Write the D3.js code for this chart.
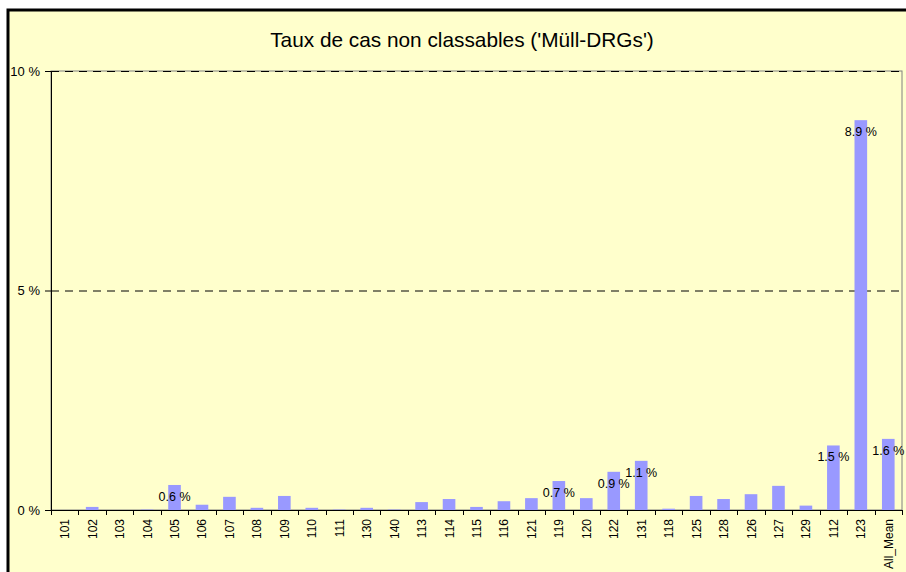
<!DOCTYPE html>
<html>
<head>
<meta charset="utf-8">
<script src="https://cdn.jsdelivr.net/npm/d3@7"></script>
<style>
  body { margin: 0; background: #fff; }
  svg { display: block; font-family: "Liberation Sans", Arial, sans-serif; }
</style>
</head>
<body>
<svg id="chart" width="906" height="572"></svg>
<script>
// data
var categories = ["101","102","103","104","105","106","107","108","109","110","111","130","140",
  "113","114","115","116","121","119","120","122","131","118","125","128","126","127","129",
  "112","123","All_Mean"];
var rates = [0, 0.07, 0, 0.01, 0.57, 0.12, 0.30, 0.05, 0.32, 0.05, 0.01, 0.05, 0.01,
  0.18, 0.25, 0.07, 0.20, 0.27, 0.66, 0.27, 0.87, 1.12, 0.03, 0.32, 0.25, 0.36, 0.55, 0.10,
  1.47, 8.88, 1.62];
var labelled = ["105","119","122","131","112","123","All_Mean"];
var yTicks = [0, 5, 10];
var title = "Taux de cas non classables ('Müll-DRGs')";

var svg = d3.select("#chart");
var margin = {top: 71, right: 4, bottom: 62, left: 51};
var width = 906 - margin.left - margin.right;
var height = 572 - margin.top - margin.bottom;

// outer frame
svg.append("rect")
    .attr("x", 8).attr("y", 10)
    .attr("width", 906).attr("height", 572)
    .attr("fill", "#FFFFCC")
    .attr("stroke", "#000")
    .attr("stroke-width", 3);

svg.append("text")
    .attr("x", 462).attr("y", 47)
    .attr("text-anchor", "middle")
    .attr("font-size", 20.8)
    .attr("fill", "#000")
    .text(title);

var x = d3.scaleBand().domain(categories).range([0, width]).paddingInner(0.54).paddingOuter(0.27);
var y = d3.scaleLinear().domain([0, 10]).range([height, 0]);

var g = svg.append("g").attr("transform", "translate(" + margin.left + "," + margin.top + ")");

// plot area border
g.append("rect")
    .attr("width", width).attr("height", height)
    .attr("fill", "none")
    .attr("stroke", "#808080")
    .attr("stroke-width", 1);

// dashed grid lines
g.selectAll(".grid")
    .data(yTicks.filter(d => d > 0))
    .enter().append("line")
    .attr("x1", 0).attr("x2", width)
    .attr("y1", d => y(d) + 0.5).attr("y2", d => y(d) + 0.5)
    .attr("stroke", "#000")
    .attr("stroke-dasharray", "8,6");

g.selectAll(".bar")
    .data(rates)
    .enter().append("rect")
    .attr("x", (d, i) => x(categories[i]))
    .attr("y", d => y(d))
    .attr("width", x.bandwidth())
    .attr("height", d => height - y(d))
    .attr("fill", "#9999FF");

g.selectAll(".val")
    .data(rates.filter((d, i) => labelled.indexOf(categories[i]) >= 0))
    .enter().append("text")
    .attr("x", (d, i) => x(labelled[i]) + x.bandwidth() / 2)
    .attr("y", d => y(d) + 16)
    .attr("text-anchor", "middle")
    .attr("font-size", 12.5)
    .attr("fill", "#000")
    .text(d => d3.format(".1f")(d) + " %");

// y axis
var yAxis = g.append("g")
    .call(d3.axisLeft(y).tickValues(yTicks).tickSize(6).tickFormat(d => d + " %"));
yAxis.select(".domain").attr("stroke", "#000");
yAxis.selectAll("text").attr("font-size", 13).attr("font-family", "Liberation Sans, Arial, sans-serif").attr("dx", -2);

// x axis: ticks between categories
var xg = g.append("g").attr("transform", "translate(0," + height + ")");
xg.append("line").attr("x1", 0).attr("x2", width).attr("y1", 0.5).attr("y2", 0.5).attr("stroke", "#000");
xg.selectAll(".tk")
    .data(d3.range(categories.length + 1))
    .enter().append("line")
    .attr("x1", i => Math.round(i * x.step()) + 0.5)
    .attr("x2", i => Math.round(i * x.step()) + 0.5)
    .attr("y1", 0).attr("y2", 5)
    .attr("stroke", "#000");
xg.selectAll(".lbl")
    .data(categories)
    .enter().append("text")
    .attr("transform", d => "translate(" + (x(d) + x.bandwidth() / 2 + 4.5) + ",9) rotate(-90)")
    .attr("text-anchor", "end")
    .attr("font-size", 12)
    .attr("fill", "#000")
    .text(d => d);
</script>
</body>
</html>
